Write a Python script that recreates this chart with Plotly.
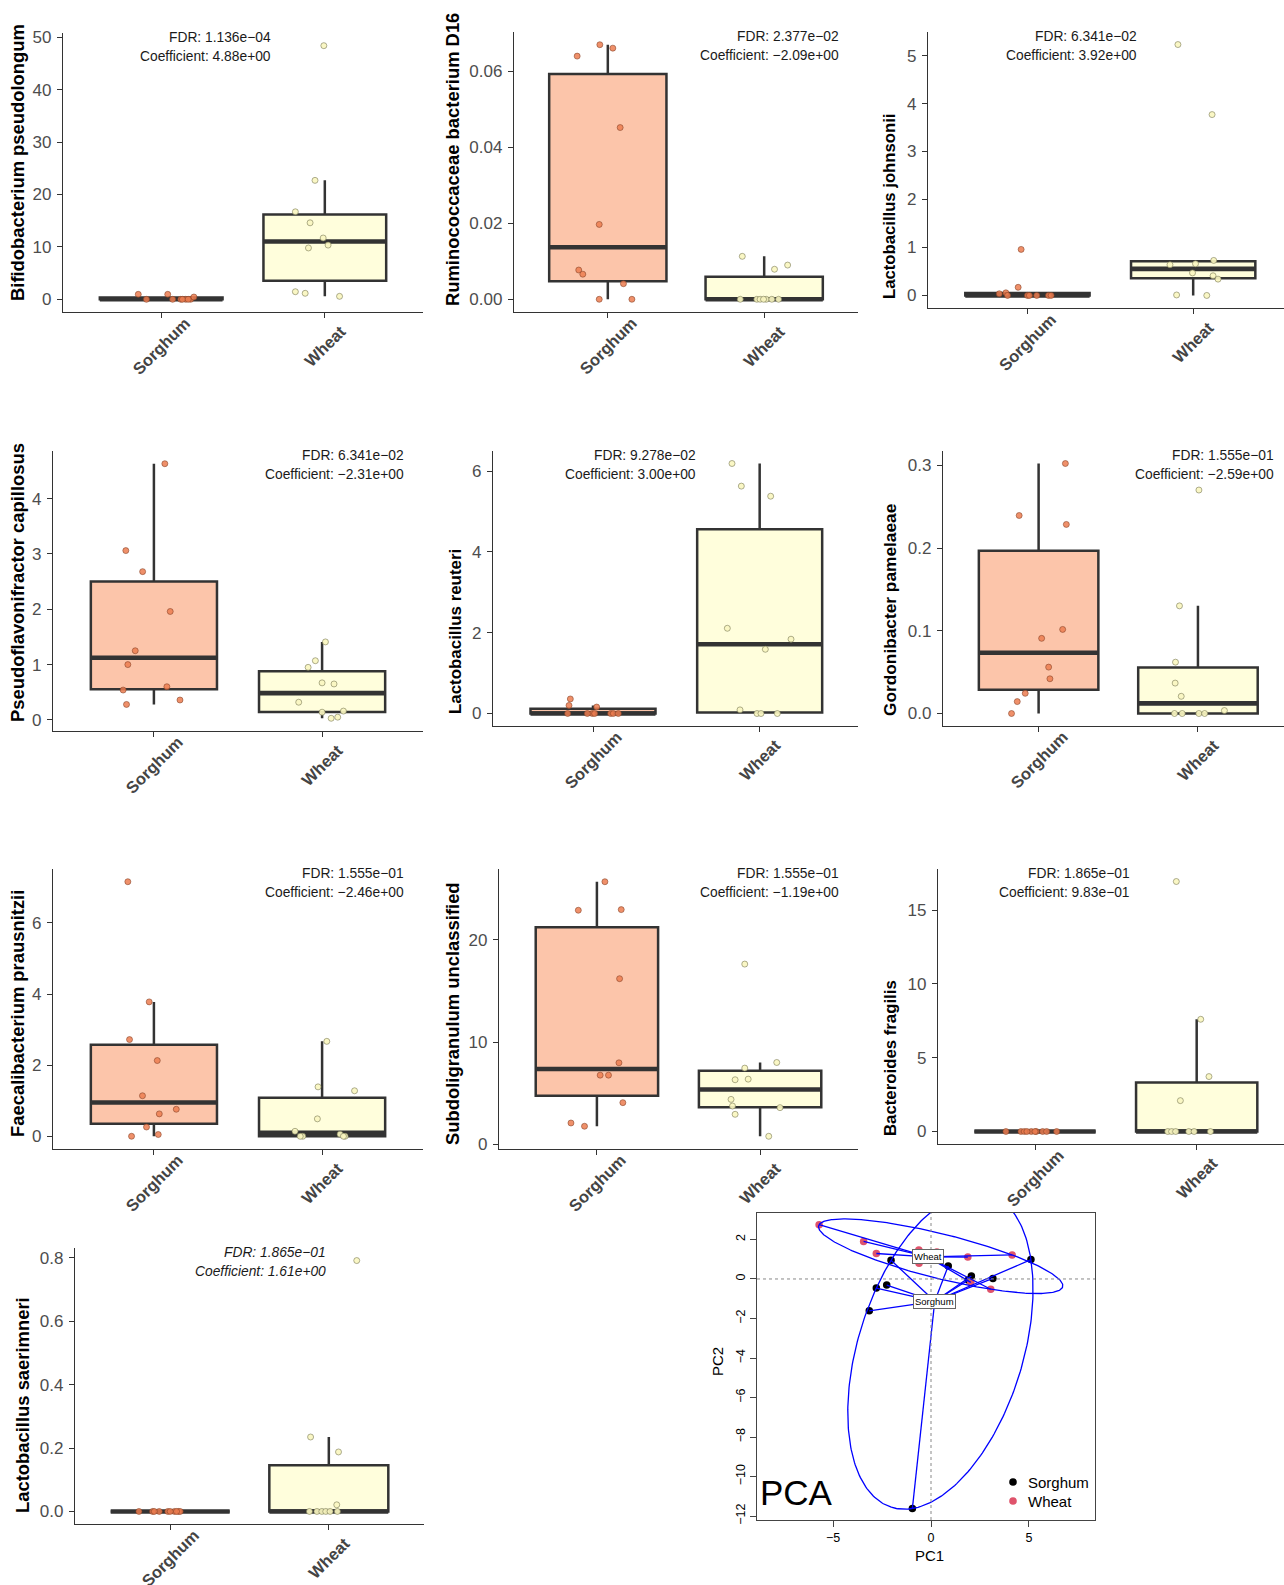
import numpy as np
import plotly.graph_objects as go

W, H = 1284, 1585
FONT = "Liberation Sans, Arial, sans-serif"

# ---------------- data ----------------
groups = ["Sorghum", "Wheat"]
taxa = ["Bifidobacterium pseudolongum", "Ruminococcaceae bacterium D16", "Lactobacillus johnsonii",
        "Pseudoflavonifractor capillosus", "Lactobacillus reuteri", "Gordonibacter pamelaeae",
        "Faecalibacterium prausnitzii", "Subdoligranulum unclassified", "Bacteroides fragilis",
        "Lactobacillus saerimneri"]
fdr_labels = ["1.136e−04", "2.377e−02", "6.341e−02", "6.341e−02", "9.278e−02",
              "1.555e−01", "1.555e−01", "1.555e−01", "1.865e−01", "1.865e−01"]
coef_labels = ["4.88e+00", "−2.09e+00", "3.92e+00", "−2.31e+00", "3.00e+00",
               "−2.59e+00", "−2.46e+00", "−1.19e+00", "9.83e−01", "1.61e+00"]

bifido_sorghum = [0.95, 0, 0.95, 0, 0, 0, 0, 0.44, 0, 0]
bifido_wheat = [48.4, 22.7, 16.7, 14.6, 11.7, 9.8, 10.35, 1.45, 1.15, 0.57]
rumino_sorghum = [0.0640, 0.0670, 0.0661, 0.0452, 0.0197, 0.0077, 0.0066, 0.0041, 0, 0]
rumino_wheat = [0.0113, 0.0079, 0.0090, 0, 0, 0, 0, 0, 0, 0]
ljohn_sorghum = [0.96, 0.17, 0.035, 0.055, 0, 0, 0, 0, 0, 0]
ljohn_wheat = [5.23, 3.77, 0.64, 0.66, 0.73, 0.47, 0.41, 0.34, 0.01, 0]
pseudo_sorghum = [4.63, 3.06, 2.68, 1.96, 1.25, 1.0, 0.60, 0.54, 0.36, 0.28]
pseudo_wheat = [1.41, 1.07, 0.95, 0.67, 0.65, 0.32, 0.14, 0.16, 0.03, 0.05]
lreut_sorghum = [0.36, 0.2, 0.16, 0, 0, 0, 0, 0, 0, 0]
lreut_wheat = [6.19, 5.63, 5.38, 2.11, 1.84, 1.59, 0.09, 0, 0, 0]
gordo_sorghum = [0.3024, 0.2395, 0.2287, 0.1017, 0.0909, 0.0561, 0.042, 0.0244, 0.0144, 0]
gordo_wheat = [0.2703, 0.1302, 0.0621, 0.0368, 0.0208, 0, 0, 0, 0, 0.0036]
faec_sorghum = [7.16, 3.78, 2.72, 2.13, 1.14, 0.76, 0.63, 0.26, 0.05, 0]
faec_wheat = [2.67, 1.39, 1.28, 0.49, 0.14, 0, 0.06, 0, 0, 0]
subdo_sorghum = [25.69, 22.9, 22.96, 16.2, 7.97, 6.76, 6.76, 4.07, 2.08, 1.76]
subdo_wheat = [17.63, 8.0, 7.45, 6.31, 6.37, 4.39, 3.74, 3.58, 2.93, 0.78]
bfrag_sorghum = [0, 0, 0, 0, 0, 0, 0, 0, 0, 0]
bfrag_wheat = [16.93, 7.6, 3.72, 2.09, 0, 0, 0, 0, 0, 0]
lsaer_sorghum = [0, 0, 0, 0, 0, 0, 0, 0, 0, 0]
lsaer_wheat = [0.7916, 0.2349, 0.1877, 0.021, 0, 0, 0, 0, 0, 0]

# horizontal jitter
bifido_sorghum_jit = [-0.14, -0.09, 0.04, 0.07, 0.12, 0.15, 0.18, 0.2, 0.13, 0.165]
bifido_wheat_jit = [-0.006, -0.06, -0.18, -0.09, -0.01, -0.1, 0.02, -0.18, -0.12, 0.09]
rumino_sorghum_jit = [-0.196, -0.051, 0.032, 0.079, -0.055, -0.186, -0.16, 0.10, -0.055, 0.154]
rumino_wheat_jit = [-0.14, 0.066, 0.15, -0.153, -0.047, -0.026, 0.013, 0.049, 0.092, -0.004]
ljohn_sorghum_jit = [-0.038, -0.056, -0.17, -0.13, -0.12, 0, 0.012, 0.127, 0.143, 0.056]
ljohn_wheat_jit = [-0.092, 0.114, -0.14, 0.014, 0.124, -0.004, 0.12, 0.15, -0.1, 0.082]
pseudo_sorghum_jit = [0.065, -0.167, -0.067, 0.097, -0.111, -0.155, 0.077, -0.183, 0.155, -0.163]
pseudo_wheat_jit = [0.02, -0.04, -0.083, 0, 0.071, -0.139, 0, 0.127, 0.054, 0.093]
lreut_sorghum_jit = [-0.136, -0.144, 0.022, -0.152, -0.004, 0.01, 0.106, 0.122, 0.152, -0.034]
lreut_wheat_jit = [-0.166, -0.11, 0.066, -0.194, 0.188, 0.034, -0.118, -0.016, 0.008, 0.106]
gordo_sorghum_jit = [0.168, -0.122, 0.174, 0.151, 0.019, 0.063, 0.071, -0.084, -0.134, -0.17]
gordo_wheat_jit = [0.006, -0.116, -0.141, -0.143, -0.105, -0.147, -0.099, 0.006, 0.042, 0.166]
faec_sorghum_jit = [-0.155, -0.028, -0.145, 0.02, -0.068, 0.133, 0.032, -0.044, 0.026, -0.133]
faec_wheat_jit = [0.028, -0.024, 0.193, -0.028, -0.161, -0.115, 0.107, 0.137, -0.13, 0.127]
subdo_sorghum_jit = [0.049, -0.114, 0.149, 0.139, 0.135, 0.02, 0.071, 0.159, -0.159, -0.076]
subdo_wheat_jit = [-0.094, 0.102, -0.094, -0.153, -0.073, -0.178, -0.169, 0.122, -0.153, 0.053]
bfrag_sorghum_jit = [-0.18, -0.087, -0.066, -0.023, 0.008, 0.047, 0.072, 0.134, 0.0, -0.05]
bfrag_wheat_jit = [-0.126, 0.025, 0.076, -0.101, -0.179, -0.155, -0.13, -0.049, 0.085, -0.016]
lsaer_sorghum_jit = [-0.197, -0.111, -0.069, -0.015, 0.027, 0.052, 0.063, -0.1, 0.0, 0.04]
lsaer_wheat_jit = [0.176, -0.115, 0.061, 0.05, -0.122, -0.075, -0.044, -0.019, 0.008, 0.054]

# PCA scores
sorghum_pc1 = [-2.04, 0.88, 2.06, 3.16, 5.10, -2.26, -2.79, -3.15, -0.95, 1.90]
sorghum_pc2 = [0.95, 0.66, 0.15, 0.03, 0.98, -0.31, -0.46, -1.61, -11.62, -0.05]
wheat_pc1 = [-5.71, -3.44, -2.79, -0.62, -0.61, 0.30, 1.88, 4.14, 2.03, 3.05]
wheat_pc2 = [2.75, 1.90, 1.29, 1.47, 0.80, 1.36, 1.11, 1.22, -0.17, -0.52]

panel_values = [
    (bifido_sorghum, bifido_wheat, bifido_sorghum_jit, bifido_wheat_jit),
    (rumino_sorghum, rumino_wheat, rumino_sorghum_jit, rumino_wheat_jit),
    (ljohn_sorghum, ljohn_wheat, ljohn_sorghum_jit, ljohn_wheat_jit),
    (pseudo_sorghum, pseudo_wheat, pseudo_sorghum_jit, pseudo_wheat_jit),
    (lreut_sorghum, lreut_wheat, lreut_sorghum_jit, lreut_wheat_jit),
    (gordo_sorghum, gordo_wheat, gordo_sorghum_jit, gordo_wheat_jit),
    (faec_sorghum, faec_wheat, faec_sorghum_jit, faec_wheat_jit),
    (subdo_sorghum, subdo_wheat, subdo_sorghum_jit, subdo_wheat_jit),
    (bfrag_sorghum, bfrag_wheat, bfrag_sorghum_jit, bfrag_wheat_jit),
    (lsaer_sorghum, lsaer_wheat, lsaer_sorghum_jit, lsaer_wheat_jit),
]
y_dticks = [10, 0.02, 1, 1, 2, 0.1, 2, 10, 5, 0.2]
y_formats = ["", ".2f", "", "", "", ".1f", "", "", "", ".1f"]

# ---------------- layout geometry (pixels) ----------------
geo = [
    dict(l=63, r=423, t=33, b=312, xr=2.6, tx=18, ty=163, ax=273, ts=18.4),
    dict(l=514, r=858, t=32, b=312, xr=2.6, tx=452, ty=160, ax=841, ts=18.4),
    dict(l=928, r=1284, t=32, b=308, xr=2.548, tx=890, ty=207, ax=1139, ts=16.7),
    dict(l=53, r=423, t=451, b=731, xr=2.6, tx=17, ty=583, ax=406, ts=18.4),
    dict(l=493, r=858, t=451, b=726, xr=2.59, tx=455, ty=632, ax=698, ts=16.9),
    dict(l=943, r=1284, t=451, b=726, xr=2.54, tx=890, ty=610, ax=1276, ts=17.3),
    dict(l=53, r=423, t=869, b=1149, xr=2.6, tx=17, ty=1014, ax=406, ts=18.4),
    dict(l=499, r=858, t=869, b=1149, xr=2.6, tx=452, ty=1014, ax=841, ts=18.4),
    dict(l=938, r=1284, t=869, b=1144, xr=2.54, tx=890, ty=1058, ax=1132, ts=16.8),
    dict(l=75, r=424, t=1248, b=1524, xr=2.6, tx=22, ty=1405, ax=328, ts=18.4),
]

box_fill = ["#FCC5AA", "#FFFEDC"]
pt_fill = ["rgba(236,124,80,0.85)", "rgba(250,246,192,0.92)"]
pt_line = ["rgba(130,62,36,0.7)", "rgba(120,120,86,0.75)"]
DARK = "#333333"
BOXW = 0.75


def px(xp):
    return xp / W


def py(yp):
    return 1 - yp / H


def tukey(vals):
    v = np.asarray(vals, float)
    q1, med, q3 = np.percentile(v, [25, 50, 75])
    iqr = q3 - q1
    lo = v[v >= q1 - 1.5 * iqr].min()
    hi = v[v <= q3 + 1.5 * iqr].max()
    return q1, med, q3, lo, hi


fig = go.Figure()
annotations = []
shapes = []
layout_axes = {}

for i, (vals, g) in enumerate(zip(panel_values, geo)):
    n = "" if i == 0 else str(i + 1)
    xa, ya = "x" + n, "y" + n
    sv, wv, sj, wj = vals
    allv = np.array(sv + wv, float)
    lo, hi = allv.min(), allv.max()
    span = hi - lo
    yr = [lo - 0.05 * span, hi + 0.05 * span]

    for k, (v, jit) in enumerate([(sv, sj), (wv, wj)]):
        pos = k + 1
        q1, med, q3, wl, wh = tukey(v)
        fig.add_trace(go.Box(x=[pos], q1=[q1], median=[med], q3=[q3], lowerfence=[wl],
                             upperfence=[wh], width=BOXW, whiskerwidth=0, fillcolor=box_fill[k],
                             line=dict(color=DARK, width=2.5), boxpoints=False,
                             orientation="v", xaxis=xa, yaxis=ya, showlegend=False,
                             hoverinfo="skip"))
        fig.add_trace(go.Scatter(x=[pos - BOXW / 2, pos + BOXW / 2], y=[med, med], mode="lines",
                                 line=dict(color=DARK, width=4.6), xaxis=xa, yaxis=ya,
                                 showlegend=False, hoverinfo="skip"))
        fig.add_trace(go.Scatter(x=[pos + j for j in jit], y=v, mode="markers",
                                 marker=dict(size=6, color=pt_fill[k],
                                             line=dict(color=pt_line[k], width=0.8)),
                                 xaxis=xa, yaxis=ya, showlegend=False, hoverinfo="skip"))
        annotations.append(dict(x=pos, xref=xa, y=py(g["b"] + 34), yref="paper",
                                text=groups[k], textangle=-45, showarrow=False,
                                xanchor="center", yanchor="middle",
                                font=dict(family=FONT, size=16.5, color="#444444", weight="bold")))

    layout_axes["xaxis" + n] = dict(domain=[px(g["l"]), px(g["r"])], range=[0.4, g["xr"]],
                                    anchor=ya, showline=True, linecolor=DARK, linewidth=1.3,
                                    ticks="outside", ticklen=5, tickwidth=1.3, tickcolor=DARK,
                                    tickvals=[1, 2], showticklabels=False, showgrid=False,
                                    zeroline=False, fixedrange=True)
    layout_axes["yaxis" + n] = dict(domain=[py(g["b"]), py(g["t"])], range=yr, anchor=xa,
                                    showline=True, linecolor=DARK, linewidth=1.3,
                                    ticks="outside", ticklen=5, tickwidth=1.3, tickcolor=DARK,
                                    tick0=0, dtick=y_dticks[i], tickformat=y_formats[i],
                                    tickfont=dict(family=FONT, size=17, color="#4D4D4D"),
                                    ticklabelstandoff=2,
                                    showgrid=False, zeroline=False, fixedrange=True)
    annotations.append(dict(x=px(g["tx"]), y=py(g["ty"]), xref="paper", yref="paper",
                            text=taxa[i], textangle=-90, showarrow=False,
                            xanchor="center", yanchor="middle",
                            font=dict(family=FONT, size=g["ts"], color="black", weight="bold")))
    style = "italic" if i == 9 else "normal"
    annotations.append(dict(x=px(g["ax"]), y=py(g["t"] + 4.5), xref="paper", yref="paper",
                            text="FDR: " + fdr_labels[i], showarrow=False,
                            xanchor="right", yanchor="middle",
                            font=dict(family=FONT, size=13.8, color="#1A1A1A", style=style)))
    annotations.append(dict(x=px(g["ax"]), y=py(g["t"] + 23.5), xref="paper", yref="paper",
                            text="Coefficient: " + coef_labels[i], showarrow=False,
                            xanchor="right", yanchor="middle",
                            font=dict(family=FONT, size=13.8, color="#1A1A1A", style=style)))


# ---------------- PCA panel ----------------
def mvee(P, tol=1e-9, maxit=20000):
    N, d = P.shape
    Q = np.vstack([P.T, np.ones(N)])
    u = np.ones(N) / N
    for _ in range(maxit):
        X = Q @ np.diag(u) @ Q.T
        M = np.einsum("ij,ji->i", Q.T @ np.linalg.inv(X), Q)
        j = np.argmax(M)
        step = (M[j] - d - 1) / ((d + 1) * (M[j] - 1))
        nu = (1 - step) * u
        nu[j] += step
        if np.linalg.norm(nu - u) < tol:
            u = nu
            break
        u = nu
    c = P.T @ u
    A = np.linalg.inv(P.T @ np.diag(u) @ P - np.outer(c, c)) / d
    return A, c


PCX, PCY = "x11", "y11"
pca_colors = ["black", "#DF536B"]
pca_sets = [(sorghum_pc1, sorghum_pc2), (wheat_pc1, wheat_pc2)]
for k, (xs, ys) in enumerate(pca_sets):
    fig.add_trace(go.Scatter(x=xs, y=ys, mode="markers",
                             marker=dict(size=7.5, color=pca_colors[k]),
                             xaxis=PCX, yaxis=PCY, showlegend=False, hoverinfo="skip"))
for k, (xs, ys) in enumerate(pca_sets):
    P = np.column_stack([xs, ys])
    cen = P.mean(axis=0)
    sx, sy = [], []
    for p in P:
        sx += [cen[0], p[0], None]
        sy += [cen[1], p[1], None]
    fig.add_trace(go.Scatter(x=sx, y=sy, mode="lines", line=dict(color="#0000FF", width=1.3),
                             xaxis=PCX, yaxis=PCY, showlegend=False, hoverinfo="skip"))
    A, c = mvee(P)
    evals, evecs = np.linalg.eigh(A)
    radii = 1 / np.sqrt(evals)
    t = np.linspace(0, 2 * np.pi, 300)
    circ = np.vstack([radii[0] * np.cos(t), radii[1] * np.sin(t)])
    ell = evecs @ circ + c[:, None]
    fig.add_trace(go.Scatter(x=ell[0], y=ell[1], mode="lines", line=dict(color="#0000FF", width=1.3),
                             xaxis=PCX, yaxis=PCY, showlegend=False, hoverinfo="skip"))
    annotations.append(dict(x=cen[0], y=cen[1], xref=PCX, yref=PCY, text=groups[k], showarrow=False,
                            font=dict(family=FONT, size=9.5, color="black"), bgcolor="white",
                            bordercolor="#666666", borderwidth=1, borderpad=1))

pca_l, pca_r, pca_t, pca_b = 757, 1095, 1213, 1520
layout_axes["xaxis11"] = dict(domain=[px(pca_l), px(pca_r)], range=[-8.88, 8.37], anchor=PCY,
                              showline=True, mirror=True, linecolor="#444444", linewidth=1,
                              ticks="outside", ticklen=6, tickcolor="#444444",
                              tickvals=[-5, 0, 5], tickfont=dict(family=FONT, size=12.5, color="black"),
                              showgrid=False, zeroline=False, fixedrange=True)
layout_axes["yaxis11"] = dict(domain=[py(pca_b), py(pca_t)], range=[-12.2, 3.34], anchor=PCX,
                              showline=True, mirror=True, linecolor="#444444", linewidth=1,
                              ticks="outside", ticklen=6, tickcolor="#444444",
                              tickvals=[-12, -10, -8, -6, -4, -2, 0, 2], tickangle=-90,
                              tickfont=dict(family=FONT, size=12.5, color="black"),
                              showgrid=False, zeroline=False, fixedrange=True)
shapes.append(dict(type="line", xref=PCX, yref="y11 domain", x0=0, x1=0, y0=0, y1=1,
                   line=dict(color="#888888", width=1, dash="dot")))
shapes.append(dict(type="line", xref="x11 domain", yref=PCY, x0=0, x1=1, y0=0, y1=0,
                   line=dict(color="#888888", width=1, dash="dot")))

# legend
for k, yy in enumerate([1482, 1501]):
    shapes.append(dict(type="circle", xref="paper", yref="paper",
                       x0=px(1013 - 3.8), x1=px(1013 + 3.8), y0=py(yy + 3.8), y1=py(yy - 3.8),
                       fillcolor=pca_colors[k], line=dict(width=0)))
    annotations.append(dict(x=px(1026), y=py(yy), xref="paper", yref="paper", text=groups[k],
                            showarrow=False, xanchor="left", yanchor="middle",
                            font=dict(family=FONT, size=15, color="black")))
annotations.append(dict(x=px(758), y=py(1492), xref="paper", yref="paper", text="PCA",
                        showarrow=False, xanchor="left", yanchor="middle",
                        font=dict(family=FONT, size=35, color="black")))
annotations.append(dict(x=px(929), y=py(1555), xref="paper", yref="paper", text="PC1",
                        showarrow=False, xanchor="center", yanchor="middle",
                        font=dict(family=FONT, size=15, color="black")))
annotations.append(dict(x=px(717), y=py(1362), xref="paper", yref="paper", text="PC2",
                        textangle=-90, showarrow=False, xanchor="center", yanchor="middle",
                        font=dict(family=FONT, size=15, color="black")))

fig.update_layout(width=W, height=H, autosize=False, margin=dict(l=0, r=0, t=0, b=0),
                  paper_bgcolor="white", plot_bgcolor="white", template="none",
                  showlegend=False, annotations=annotations, shapes=shapes,
                  font=dict(family=FONT), **layout_axes)

fig.write_html("out.html")
